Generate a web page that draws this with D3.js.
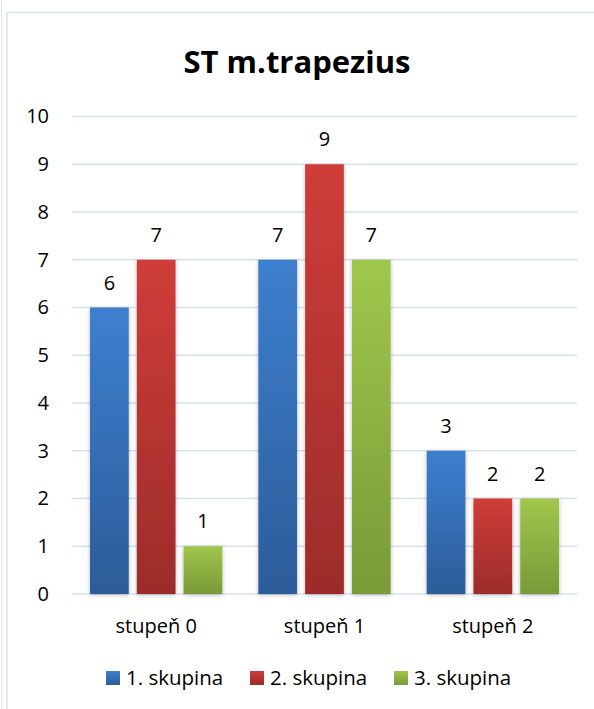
<!DOCTYPE html>
<html>
<head>
<meta charset="utf-8">
<script src="https://cdn.jsdelivr.net/npm/d3@7/dist/d3.min.js"></script>
<style>
  html, body { margin: 0; padding: 0; background: #fff; }
  svg { display: block; }
  text { font-family: "Open Sans", "Noto Sans", sans-serif; fill: #000; }
</style>
</head>
<body>
<svg id="chart" width="594" height="709"></svg>
<script>
// Chart data
const title = "ST m.trapezius";
const categories = ["stupeň 0", "stupeň 1", "stupeň 2"];
const seriesNames = ["1. skupina", "2. skupina", "3. skupina"];
const skupina1 = [6, 7, 3];
const skupina2 = [7, 9, 2];
const skupina3 = [1, 7, 2];
const yTicks = [0, 1, 2, 3, 4, 5, 6, 7, 8, 9, 10];

const seriesValues = [skupina1, skupina2, skupina3];
const colorsTop = ["#3d7fcf", "#cf3d3a", "#a0c74c"];
const colorsBottom = ["#2c5c99", "#9c2c2a", "#789a38"];

const FONT = '"Open Sans", "Noto Sans", sans-serif';
const svg = d3.select("#chart");
const W = 594, H = 709;
const plot = { left: 72, right: 577, top: 116.5, bottom: 594 };

// Frame
svg.append("line").attr("x1", 1.5).attr("x2", 1.5).attr("y1", 0).attr("y2", H)
  .attr("stroke", "#dfe7f2").attr("stroke-width", 1);
svg.append("path")
  .attr("d", `M7,${H} L7,12.5 L${W},12.5`)
  .attr("fill", "none").attr("stroke", "#d6e2f1").attr("stroke-width", 1.5);

// Gradients and shadow
const defs = svg.append("defs");
seriesNames.forEach((s, i) => {
  const g = defs.append("linearGradient").attr("id", "grad" + i)
    .attr("x1", 0).attr("y1", 0).attr("x2", 0).attr("y2", 1);
  g.append("stop").attr("offset", "0%").attr("stop-color", colorsTop[i]);
  g.append("stop").attr("offset", "100%").attr("stop-color", colorsBottom[i]);
});
const f = defs.append("filter").attr("id", "shadow")
  .attr("x", "-30%").attr("y", "-10%").attr("width", "160%").attr("height", "120%");
f.append("feDropShadow").attr("dx", 0).attr("dy", 1).attr("stdDeviation", 2.2)
  .attr("flood-color", "#000").attr("flood-opacity", 0.28);

// Scales
const y = d3.scaleLinear().domain([0, 10]).range([plot.bottom, plot.top]);
const x0 = d3.scaleBand().domain(categories).range([plot.left, plot.right])
  .paddingInner(0.214).paddingOuter(0.107);
const x1 = d3.scaleBand().domain(seriesNames).range([0, x0.bandwidth()])
  .paddingInner(0.172).paddingOuter(0);

// Title
svg.append("text").attr("x", 297).attr("y", 73).attr("text-anchor", "middle")
  .attr("font-size", 31).attr("font-weight", 700).text(title);

// Gridlines
svg.append("g").selectAll("line").data(yTicks).join("line")
  .attr("x1", plot.left).attr("x2", plot.right)
  .attr("y1", d => y(d)).attr("y2", d => y(d))
  .attr("stroke", "#d6e1f0").attr("stroke-width", 1.5);

// Y axis labels
const yAxis = d3.axisLeft(y).tickValues(yTicks).tickSize(0).tickPadding(0);
const gy = svg.append("g").attr("transform", `translate(${plot.left - 23},0)`).call(yAxis);
gy.select(".domain").remove();
gy.selectAll("text").attr("font-size", 20).attr("fill", "#000").style("font-family", FONT);

// Bars
const groups = svg.append("g").selectAll("g").data(categories).join("g")
  .attr("transform", d => `translate(${x0(d)},0)`);

const cells = (c, ci) => seriesNames.map((s, si) => ({ s, si, v: seriesValues[si][ci] }));

groups.selectAll("rect").data(cells).join("rect")
  .attr("x", d => x1(d.s)).attr("width", x1.bandwidth())
  .attr("y", d => y(d.v)).attr("height", d => y(0) - y(d.v))
  .attr("fill", d => `url(#grad${d.si})`)
  .attr("filter", "url(#shadow)");

groups.selectAll("text.val").data(cells).join("text").attr("class", "val")
  .attr("x", d => x1(d.s) + x1.bandwidth() / 2)
  .attr("y", d => y(d.v) - 18)
  .attr("text-anchor", "middle").attr("font-size", 20)
  .text(d => d.v);

// X axis labels
const xAxis = d3.axisBottom(x0).tickSize(0).tickPadding(0);
const gx = svg.append("g").attr("transform", `translate(0,${plot.bottom + 39})`).call(xAxis);
gx.select(".domain").remove();
gx.selectAll("text").attr("font-size", 20).attr("dy", 0).attr("fill", "#000").style("font-family", FONT);

// Legend
const legendX = [106, 250, 394];
const legend = svg.append("g").selectAll("g").data(seriesNames).join("g")
  .attr("transform", (d, i) => `translate(${legendX[i]},671)`);
legend.append("rect").attr("width", 14).attr("height", 14)
  .attr("fill", (d, i) => `url(#grad${i})`);
legend.append("text").attr("x", 20).attr("y", 14).attr("font-size", 20.5).text(d => d);
</script>
</body>
</html>
